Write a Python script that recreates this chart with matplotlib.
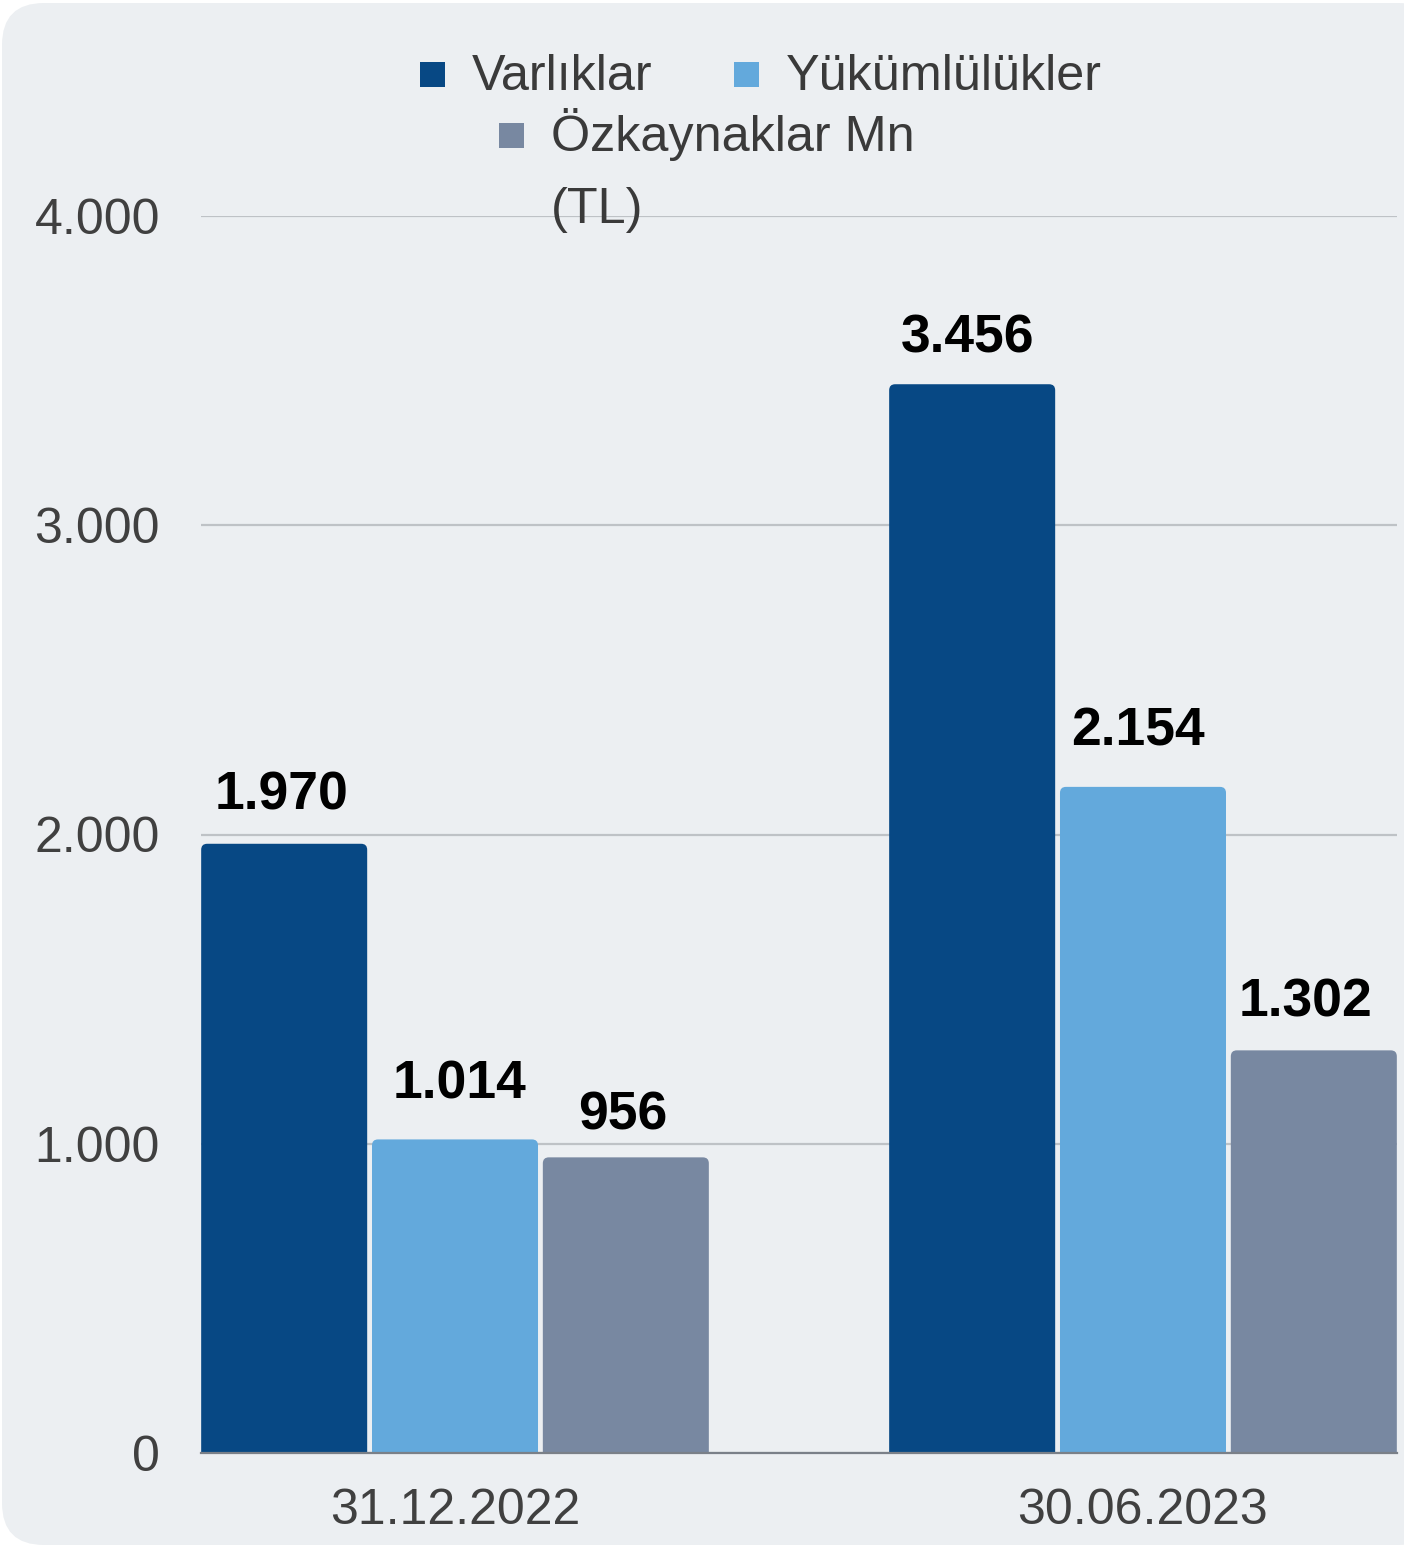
import numpy as np
import matplotlib
matplotlib.use("Agg")
import matplotlib.pyplot as plt
from matplotlib.patches import FancyBboxPatch, Rectangle

# data
dates = ["31.12.2022", "30.06.2023"]
series = ["Varlıklar", "Yükümlülükler", "Özkaynaklar Mn\n(TL)"]
varliklar = [1970, 3456]
yukumlulukler = [1014, 2154]
ozkaynaklar = [956, 1302]
yticks = [0, 1000, 2000, 3000, 4000]
ytick_labels = ["0", "1.000", "2.000", "3.000", "4.000"]

colors = ["#074884", "#63A9DC", "#7888A1"]
BG = "#ECEFF2"
FONT = "Liberation Sans"
W, H = 1404, 1547

# value label nudges in px (dx, baseline above bar top), per series
label_nudge = [[(-3, 34), (-5, 32)],
               [(4, 41), (-5, 41)],
               [(-3, 28), (-8, 34)]]

plt.rcParams['font.family'] = [FONT, 'DejaVu Sans']
fig = plt.figure(figsize=(W / 100, H / 100), dpi=100, facecolor="white")


def fx(px):
    return px / W


def fy(py):
    return 1 - py / H


# rounded card background
card = FancyBboxPatch((fx(2), fy(1545)), fx(1440) - fx(2), fy(3) - fy(1545),
                      boxstyle="round,pad=0,rounding_size=%f" % fx(42),
                      mutation_aspect=W / H, transform=fig.transFigure,
                      facecolor=BG, edgecolor="none", zorder=-10)
fig.patches.append(card)

ax = fig.add_axes([fx(201), fy(1453), fx(1397) - fx(201), fy(216) - fy(1453)])
ax.set_zorder(1)
ax.set_facecolor("none")
ax.set_xlim(-0.3692, 1.3692)
ax.set_ylim(0, 4000)

x = np.arange(len(dates))
step, bw = 0.2483, 0.2413
values = [varliklar, yukumlulukler, ozkaynaklar]

# round top corners (~6 px)
r_x = 6 / 688
r_y = 6 / 309.25 * 1000
for i, vals in enumerate(values):
    bars = ax.bar(x + (i - 1) * step, vals, bw, color=colors[i], zorder=2)
    for j, (b, v) in enumerate(zip(bars, vals)):
        bx, bh = b.get_x(), b.get_height()
        b.set_visible(False)
        p = FancyBboxPatch((bx, -r_y), bw, bh + r_y,
                           boxstyle="round,pad=0,rounding_size=%f" % r_x,
                           mutation_aspect=r_y / r_x,
                           facecolor=colors[i], edgecolor="none", zorder=2)
        ax.add_patch(p)
        dx, dy = label_nudge[i][j]
        ax.annotate(f"{v:,}".replace(",", "."), (bx + bw / 2, bh),
                    xytext=(dx * 0.72, dy * 0.72), textcoords="offset points",
                    ha="center", va="baseline", fontsize=38.5,
                    fontweight="bold", color="black", zorder=4)

ax.set_yticks(yticks)
ax.set_yticklabels(ytick_labels)
ax.set_xticks(x)
ax.set_xticklabels(dates)
ax.tick_params(axis="y", length=0, pad=29.5, labelsize=36, labelcolor="#404040")
ax.tick_params(axis="x", length=0, pad=25, labelsize=36, labelcolor="#404040")
ax.yaxis.grid(True, color="#BEC2C6", linewidth=1.6, zorder=1)
ax.set_axisbelow(True)
for s in ["top", "right", "left"]:
    ax.spines[s].set_visible(False)
ax.spines["bottom"].set_color("#7A8088")
ax.spines["bottom"].set_linewidth(1.6)
ax.spines["bottom"].set_zorder(3)

# legend drawn by hand to get the wrapped layout
# (square x, square top y, text x, text baseline y) in pixels
legend_items = [
    (series[0], colors[0], 420, 62, 472, 90),
    (series[1], colors[1], 734, 62, 786, 90),
    (series[2], colors[2], 499, 123, 551, 151),
]
for label, c, sx, sy, tx, ty in legend_items:
    fig.patches.append(Rectangle((fx(sx), fy(sy + 25)), fx(25), 25 / H,
                                 transform=fig.transFigure, facecolor=c,
                                 edgecolor="none", zorder=5))
    lines = label.split("\n")
    for k, line in enumerate(lines):
        fig.text(fx(tx), fy(ty + 72 * k), line, fontsize=36.3, color="#3A3A3A",
                 ha="left", va="baseline", zorder=5)

fig.savefig("out.png", dpi=100, facecolor="white")
